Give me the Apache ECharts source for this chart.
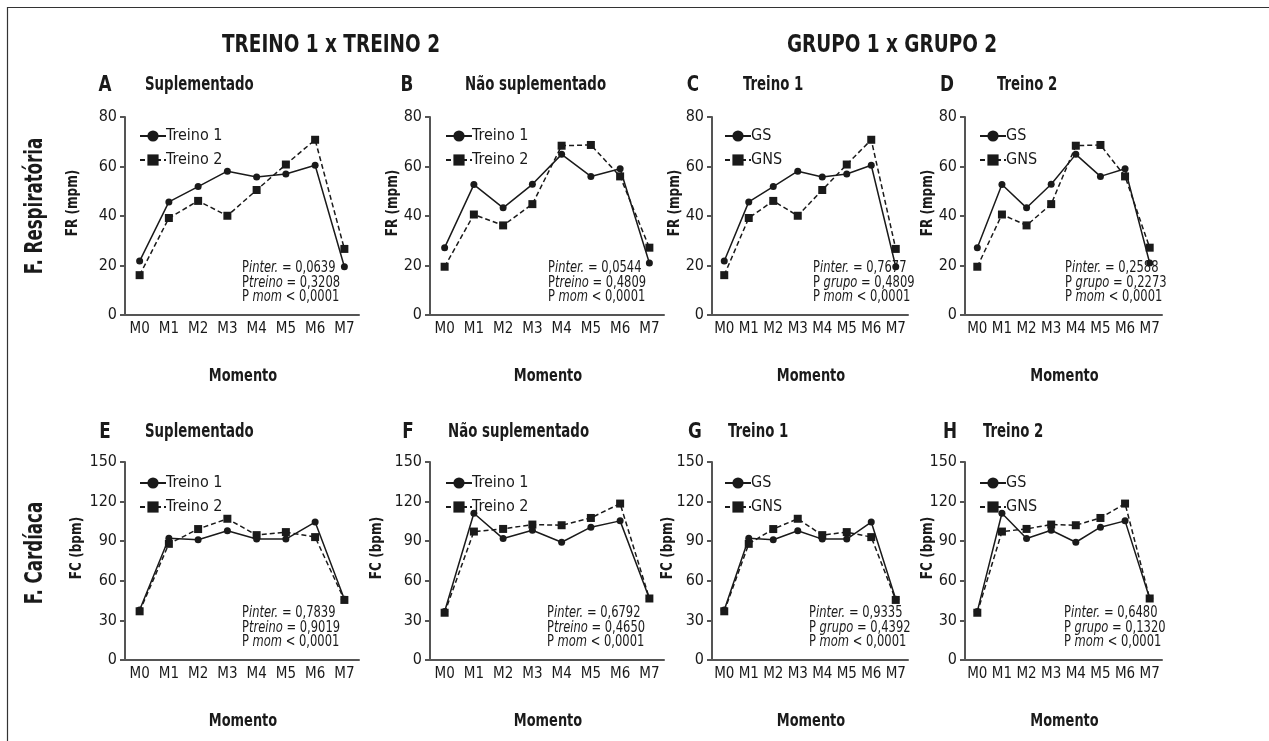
<!DOCTYPE html>
<html><head><meta charset="utf-8">
<script src="https://cdn.jsdelivr.net/npm/echarts@6/dist/echarts.min.js"></script>
<style>html,body{margin:0;padding:0;background:#fff}#c{width:1269px;height:741px}</style>
</head><body><div id="c"></div>
<script>
const categories = ['M0','M1','M2','M3','M4','M5','M6','M7'];
// A: FR Suplementado
const frSupTreino1 = [21.8, 45.7, 51.9, 58.1, 55.8, 57.0, 60.5, 19.5];
const frSupTreino2 = [16.1, 39.2, 46.1, 40.1, 50.5, 60.8, 70.8, 26.7];
// B: FR Não suplementado
const frNaoTreino1 = [27.2, 52.7, 43.3, 52.8, 64.9, 56.0, 59.1, 21.0];
const frNaoTreino2 = [19.5, 40.6, 36.2, 44.8, 68.4, 68.7, 56.0, 27.2];
// C: FR Treino 1
const frT1GS  = [21.8, 45.7, 51.9, 58.1, 55.8, 57.0, 60.5, 19.5];
const frT1GNS = [16.1, 39.2, 46.1, 40.1, 50.5, 60.8, 70.8, 26.7];
// D: FR Treino 2
const frT2GS  = [27.2, 52.7, 43.3, 52.8, 64.9, 56.0, 59.1, 21.0];
const frT2GNS = [19.5, 40.6, 36.2, 44.8, 68.4, 68.7, 56.0, 27.2];
// E: FC Suplementado
const fcSupTreino1 = [37.9, 92.3, 91.1, 97.9, 91.6, 91.6, 104.5, 46.0];
const fcSupTreino2 = [36.9, 88.0, 99.2, 107.0, 94.6, 96.9, 93.1, 45.5];
// F: FC Não suplementado
const fcNaoTreino1 = [36.8, 111.2, 92.0, 98.3, 89.2, 100.6, 105.4, 46.6];
const fcNaoTreino2 = [35.8, 97.3, 99.3, 102.6, 102.1, 107.6, 118.5, 46.6];
// G: FC Treino 1
const fcT1GS  = [37.9, 92.3, 91.1, 97.9, 91.6, 91.6, 104.5, 46.0];
const fcT1GNS = [36.9, 88.0, 99.2, 107.0, 94.6, 96.9, 93.1, 45.5];
// H: FC Treino 2
const fcT2GS  = [36.8, 111.2, 92.0, 98.3, 89.2, 100.6, 105.4, 46.6];
const fcT2GNS = [35.8, 97.3, 99.3, 102.6, 102.1, 107.6, 118.5, 46.6];

const frTicks = {min: 0, max: 80, interval: 20};
const fcTicks = {min: 0, max: 150, interval: 30};

const FONT = "'DejaVu Sans Condensed','Liberation Sans Narrow','Roboto','Open Sans',sans-serif";
const INK = '#1a1a1a';

const panels = [
  {letter:'A', title:'Suplementado', s1:'Treino 1', s2:'Treino 2', d1:frSupTreino1, d2:frSupTreino2, ticks:frTicks, yname:'FR (mpm)',
   grid:{left:125, top:117, width:234, height:198}, lx:105, ly:85, tx:145, nx:73, pv:['0,0639','treino','0,3208'], px:242, py:268, legTop:123, legLeft:134},
  {letter:'B', title:'Não suplementado', s1:'Treino 1', s2:'Treino 2', d1:frNaoTreino1, d2:frNaoTreino2, ticks:frTicks, yname:'FR (mpm)',
   grid:{left:430, top:117, width:234, height:198}, lx:407, ly:85, tx:465, nx:393, pv:['0,0544','treino','0,4809'], px:548, py:268, legTop:123, legLeft:440},
  {letter:'C', title:'Treino 1', s1:'GS', s2:'GNS', d1:frT1GS, d2:frT1GNS, ticks:frTicks, yname:'FR (mpm)',
   grid:{left:712, top:117, width:196, height:198}, lx:693, ly:85, tx:743, nx:675, pv:['0,7677','grupo','0,4809'], px:813, py:268, legTop:123, legLeft:719},
  {letter:'D', title:'Treino 2', s1:'GS', s2:'GNS', d1:frT2GS, d2:frT2GNS, ticks:frTicks, yname:'FR (mpm)',
   grid:{left:965, top:117, width:197, height:198}, lx:947, ly:85, tx:997, nx:928, pv:['0,2588','grupo','0,2273'], px:1065, py:268, legTop:123, legLeft:974},
  {letter:'E', title:'Suplementado', s1:'Treino 1', s2:'Treino 2', d1:fcSupTreino1, d2:fcSupTreino2, ticks:fcTicks, yname:'FC (bpm)',
   grid:{left:125, top:462, width:234, height:198}, lx:105, ly:432, tx:145, nx:77, pv:['0,7839','treino','0,9019'], px:242, py:613, legTop:470, legLeft:134},
  {letter:'F', title:'Não suplementado', s1:'Treino 1', s2:'Treino 2', d1:fcNaoTreino1, d2:fcNaoTreino2, ticks:fcTicks, yname:'FC (bpm)',
   grid:{left:430, top:462, width:234, height:198}, lx:408, ly:432, tx:448, nx:377, pv:['0,6792','treino','0,4650'], px:547, py:613, legTop:470, legLeft:440},
  {letter:'G', title:'Treino 1', s1:'GS', s2:'GNS', d1:fcT1GS, d2:fcT1GNS, ticks:fcTicks, yname:'FC (bpm)',
   grid:{left:712, top:462, width:196, height:198}, lx:695, ly:432, tx:728, nx:668, pv:['0,9335','grupo','0,4392'], px:809, py:613, legTop:470, legLeft:719},
  {letter:'H', title:'Treino 2', s1:'GS', s2:'GNS', d1:fcT2GS, d2:fcT2GNS, ticks:fcTicks, yname:'FC (bpm)',
   grid:{left:965, top:462, width:197, height:198}, lx:950, ly:432, tx:983, nx:928, pv:['0,6480','grupo','0,1320'], px:1064, py:613, legTop:470, legLeft:974}
];

const grids = [], xAxes = [], yAxes = [], series = [], legends = [], graphics = [];

function txt(x, y, text, font, align, sx, rot) {
  return {type:'text', x:x, y:y, rotation:rot || 0, scaleX:sx || 1, silent:true,
    style:{text:text, font:font, fill:INK, textAlign:align || 'center', textVerticalAlign:'middle'}};
}

graphics.push({type:'rect', silent:true, shape:{x:7.5, y:7.5, width:1300, height:800}, style:{fill:'none', stroke:'#333', lineWidth:1.2}});
graphics.push(txt(331, 45, 'TREINO 1 x TREINO 2', 'bold 25px ' + FONT, 'center', 0.82));
graphics.push(txt(892, 45, 'GRUPO 1 x GRUPO 2', 'bold 25px ' + FONT, 'center', 0.82));
graphics.push(txt(35, 206, 'F. Respiratória', 'bold 25px ' + FONT, 'center', 0.74, Math.PI/2));
graphics.push(txt(35, 553, 'F. Cardíaca', 'bold 25px ' + FONT, 'center', 0.74, Math.PI/2));

panels.forEach((p, i) => {
  grids.push(Object.assign({containLabel:false}, p.grid));
  xAxes.push({
    type:'category', gridIndex:i, data:categories, boundaryGap:true,
    axisLine:{lineStyle:{color:'#555', width:2}},
    axisTick:{alignWithLabel:true, length:5, lineStyle:{color:'#888', width:2}},
    axisLabel:{color:INK, fontSize:15, fontFamily:FONT, margin:7, interval:0}
  });
  yAxes.push({
    type:'value', gridIndex:i, min:p.ticks.min, max:p.ticks.max, interval:p.ticks.interval,
    splitLine:{show:false},
    axisLine:{show:true, lineStyle:{color:'#555', width:2}},
    axisTick:{show:true, length:5, lineStyle:{color:'#555', width:2}},
    axisLabel:{color:INK, fontSize:16, fontFamily:FONT, margin:8}
  });
  series.push({
    type:'line', name:p.s1, xAxisIndex:i, yAxisIndex:i, data:p.d1,
    symbol:'circle', symbolSize:7, color:INK,
    lineStyle:{color:INK, width:1.5, type:'solid'}, itemStyle:{color:INK}, z:3
  });
  series.push({
    type:'line', name:p.s2, xAxisIndex:i, yAxisIndex:i, data:p.d2,
    symbol:'rect', symbolSize:8, color:INK,
    lineStyle:{color:INK, width:1.5, type:[5,3]}, itemStyle:{color:INK}, z:2
  });
  legends.push({
    orient:'vertical', left:p.legLeft, top:p.legTop, itemWidth:26, itemHeight:14, itemGap:8,
    data:[p.s1, p.s2].map(n=>({name:n})),
    textStyle:{color:INK, fontSize:16, fontFamily:FONT, padding:[0,0,0,-5]},
    selectedMode:false
  });
  graphics.push(txt(p.lx, p.ly, p.letter, 'bold 22px ' + FONT, 'center', 0.85));
  graphics.push(txt(p.tx, p.ly, p.title, 'bold 19px ' + FONT, 'left', 0.78));
  const yc = p.grid.top + p.grid.height/2 - 13;
  graphics.push(txt(p.nx, yc, p.yname, 'bold 16px ' + FONT, 'center', 0.84, Math.PI/2));
  graphics.push(txt(p.grid.left + p.grid.width/2 + 1, p.grid.top + p.grid.height + 61, 'Momento', 'bold 18px ' + FONT, 'center', 0.8));
  const sep = p.pv[1] === 'grupo' ? ' ' : '';
  const lines = [
    '{n|P}{i|inter.}{n| = ' + p.pv[0] + '}',
    '{n|P' + sep + '}{i|' + p.pv[1] + '}{n| = ' + p.pv[2] + '}',
    '{n|P }{i|mom}{n| < 0,0001}'
  ];
  lines.forEach((t, k) => {
    graphics.push({type:'text', silent:true, x:p.px, y:p.py + k*14.5, scaleX:0.8, style:{
      text:t, textVerticalAlign:'middle', textAlign:'left',
      rich:{n:{font:'16px ' + FONT, fill:INK}, i:{font:'italic 16px ' + FONT, fill:INK}}
    }});
  });
});

const chart = echarts.init(document.getElementById('c'), null, {renderer:'canvas'});
chart.setOption({
  animation:false,
  backgroundColor:'#fff',
  grid:grids, xAxis:xAxes, yAxis:yAxes, series:series, legend:legends,
  graphic:{elements:graphics}
});
</script>
</body></html>
